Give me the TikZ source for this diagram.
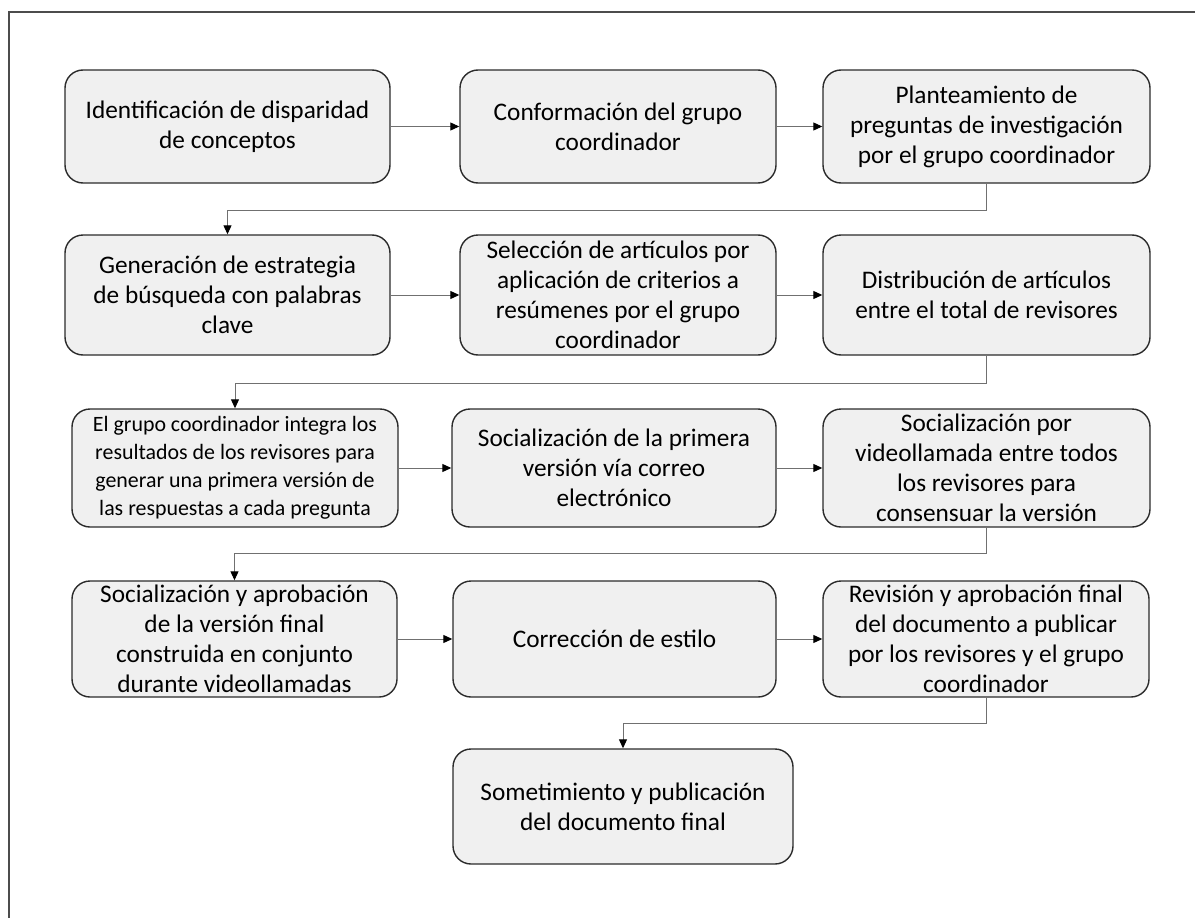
\documentclass[tikz,border=0pt]{standalone}
\usepackage{fontspec}
\setmainfont{Carlito}
\usetikzlibrary{arrows.meta}
\definecolor{boxfill}{HTML}{F0F0F0}
\definecolor{boxline}{HTML}{2B2B2B}
\definecolor{conn}{HTML}{707070}
\tikzset{
  stepbox/.style={draw=boxline, fill=boxfill, line width=1.4pt, rounded corners=18pt,
    inner sep=0pt, align=center, text=black,
    font=\fontsize{25.3}{30}\selectfont},
  arr/.style={draw=conn, line width=1pt, -{Triangle[length=9pt,width=8pt,fill=black,color=black]}}
}
\begin{document}
\begin{tikzpicture}[x=1pt,y=-1pt]
\useasboundingbox (0,0) rectangle (1195,918);
\draw[line width=1.3pt, draw=black!70] (9,918) -- (9,12) -- (1195,12);

\node[stepbox, minimum width=325pt, minimum height=113pt] (b1) at (227.5,126.5) {Identificación de disparidad\\de conceptos};
\node[stepbox, minimum width=316pt, minimum height=113pt] (b2) at (618,126.5) {Conformación del grupo\\coordinador};
\node[stepbox, minimum width=327pt, minimum height=113pt] (b3) at (986.5,126.5) {Planteamiento de\\preguntas de investigación\\por el grupo coordinador};

\node[stepbox, minimum width=325pt, minimum height=120pt] (b4) at (227.5,295) {Generación de estrategia\\de búsqueda con palabras\\clave};
\node[stepbox, minimum width=316pt, minimum height=120pt] (b5) at (618,295) {Selección de artículos por\\aplicación de criterios a\\resúmenes por el grupo\\coordinador};
\node[stepbox, minimum width=327pt, minimum height=120pt] (b6) at (986.5,295) {Distribución de artículos\\entre el total de revisores};

\node[stepbox, minimum width=326pt, minimum height=118pt, font=\fontsize{21.9}{28}\selectfont] (b7) at (235,468) {El grupo coordinador integra los\\resultados de los revisores para\\generar una primera versión de\\las respuestas a cada pregunta};
\node[stepbox, minimum width=324pt, minimum height=118pt] (b8) at (614,468) {Socialización de la primera\\versión vía correo\\electrónico};
\node[stepbox, minimum width=327pt, minimum height=118pt] (b9) at (986.5,468) {Socialización por\\videollamada entre todos\\los revisores para\\consensuar la versión};

\node[stepbox, minimum width=325pt, minimum height=116pt] (b10) at (234.5,639) {Socialización y aprobación\\de la versión final\\construida en conjunto\\durante videollamadas};
\node[stepbox, minimum width=323pt, minimum height=116pt] (b11) at (614.5,639) {Corrección de estilo};
\node[stepbox, minimum width=326pt, minimum height=116pt] (b12) at (986,639) {Revisión y aprobación final\\del documento a publicar\\por los revisores y el grupo\\coordinador};

\node[stepbox, minimum width=340pt, minimum height=115pt] (b13) at (623,806.5) {Sometimiento y publicación\\del documento final};

\draw[arr] (b1.east) -- (b2.west);
\draw[arr] (b2.east) -- (b3.west);
\draw[arr] (b4.east) -- (b5.west);
\draw[arr] (b5.east) -- (b6.west);
\draw[arr] (b7.east) -- (b8.west);
\draw[arr] (b8.east) -- (b9.west);
\draw[arr] (b10.east) -- (b11.west);
\draw[arr] (b11.east) -- (b12.west);

\draw[arr] (b3.south) -- ++(0,27) -| (b4.north);
\draw[arr] (b6.south) -- ++(0,28) -| (b7.north);
\draw[arr] (b9.south) -- ++(0,26) -| (b10.north);
\draw[arr] (b12.south) -- ++(0,26) -| (b13.north);
\end{tikzpicture}
\end{document}
